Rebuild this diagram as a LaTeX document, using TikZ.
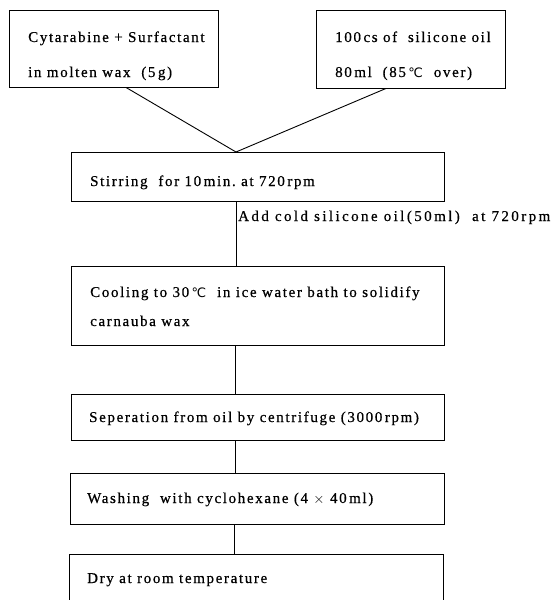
\documentclass[tikz,border=0pt]{standalone}
\usepackage{fontspec}
\setmainfont{Liberation Serif}[LetterSpace=11,FakeBold=0.6]
\newfontfamily\symfont{DejaVu Sans}
\newcommand{\degc}{{\symfont\fontsize{13}{15}\selectfont ℃}}
\begin{document}
\begin{tikzpicture}[x=1pt,y=-1pt,
  txt/.style={font=\fontsize{15}{17}\selectfont, inner sep=0pt, anchor=base west},
  box/.style={draw, line width=0.9pt, inner sep=0pt},
  conn/.style={line width=0.9pt}]
\clip (0,0) rectangle (556,600);
\useasboundingbox (0,0) rectangle (556,600);
% boxes
\node[box, minimum width=209pt, minimum height=77pt] (b1) at (113.5,48.5) {};
\node[box, minimum width=189pt, minimum height=78pt] (b2) at (410.5,49) {};
\node[box, minimum width=373pt, minimum height=49pt] (b3) at (257.5,176.5) {};
\node[box, minimum width=373pt, minimum height=79pt] (b4) at (257.5,305.5) {};
\node[box, minimum width=373pt, minimum height=46pt] (b5) at (257.5,417) {};
\node[box, minimum width=374pt, minimum height=51pt] (b6) at (257,498.5) {};
\node[box, minimum width=374pt, minimum height=50pt] (b7) at (256,579) {};
% texts
\node[txt] (t1a) at (28,42) {Cytarabine + Surfactant};
\node[txt] (t1b) at (28,77) {in molten wax\ \ (5\,g)};
\node[txt] (t2a) at (335,42) {100\,cs of\ \ silicone oil};
\node[txt] (t2b) at (335,77) {80\,ml\ \ (85\,\degc\ \ over)};
\node[txt] (t3) at (90,186) {Stirring\ \ for\ 10\,min.\ at\ 720\,rpm};
\node[txt] (t4a) at (90,297) {Cooling to 30\,\degc\ \ in ice water bath to solidify};
\node[txt] (t4b) at (90,326) {carnauba wax};
\node[txt] (t5) at (89,422) {Seperation from oil by centrifuge (3000\,rpm)};
\node[txt] (t6) at (87,503) {Washing\ \ with cyclohexane (4 $\times$ 40\,ml)};
\node[txt] (t7) at (87,583) {Dry at room temperature};
% connectors
\coordinate (apex) at (236,152);
\draw[conn] (b1.south -| 126,0) -- (apex);
\draw[conn] (b2.south -| 386,0) -- (apex);
\draw[conn] (b3.south -| apex) -- (b4.north -| apex);
\draw[conn] (b4.south -| 235,0) -- (b5.north -| 235,0);
\draw[conn] (b5.south -| 235,0) -- (b6.north -| 235,0);
\draw[conn] (b6.south -| 234,0) -- (b7.north -| 234,0);
\node[txt, font=\fontsize{15}{17}\selectfont\addfontfeature{LetterSpace=16}] (lab) at (238,221)
  {Add\ cold\ silicone oil\,(50\,ml)\ \ at\ 720\,rpm};
\end{tikzpicture}
\end{document}
